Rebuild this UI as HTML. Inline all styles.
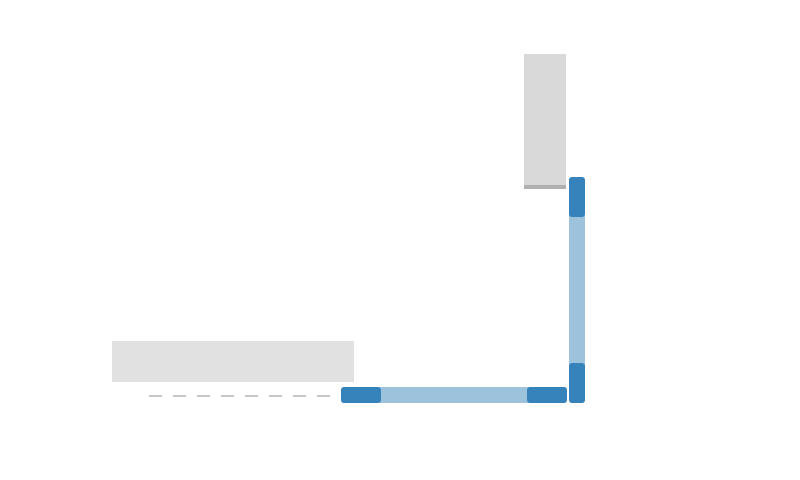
<!DOCTYPE html>
<html><head><style>
body{margin:0;width:800px;height:480px;background:#fff;position:relative;overflow:hidden}
div{position:absolute}
</style></head><body>
<div style="left:112px;top:341px;width:242px;height:41px;background:#e1e1e1"></div>
<div style="left:524px;top:54px;width:42px;height:131px;background:#d9d9d9"></div>
<div style="left:524px;top:185px;width:42px;height:4px;background:#b0b0b0"></div>
<svg width="800" height="480" style="position:absolute;left:0;top:0">
<line x1="149" y1="396" x2="332" y2="396" stroke="#b4b4b4" stroke-width="1.5" stroke-dasharray="13,11"/>
</svg>
<div style="left:341px;top:387px;width:226px;height:16px;background:#9dc2dc;border-radius:3px"></div>
<div style="left:569px;top:177px;width:16px;height:226px;background:#9dc2dc;border-radius:3px"></div>
<div style="left:341px;top:387px;width:40px;height:16px;background:#3683bb;border-radius:3px"></div>
<div style="left:527px;top:387px;width:40px;height:16px;background:#3683bb;border-radius:3px"></div>
<div style="left:569px;top:177px;width:16px;height:40px;background:#3683bb;border-radius:3px"></div>
<div style="left:569px;top:363px;width:16px;height:40px;background:#3683bb;border-radius:3px"></div>
</body></html>
